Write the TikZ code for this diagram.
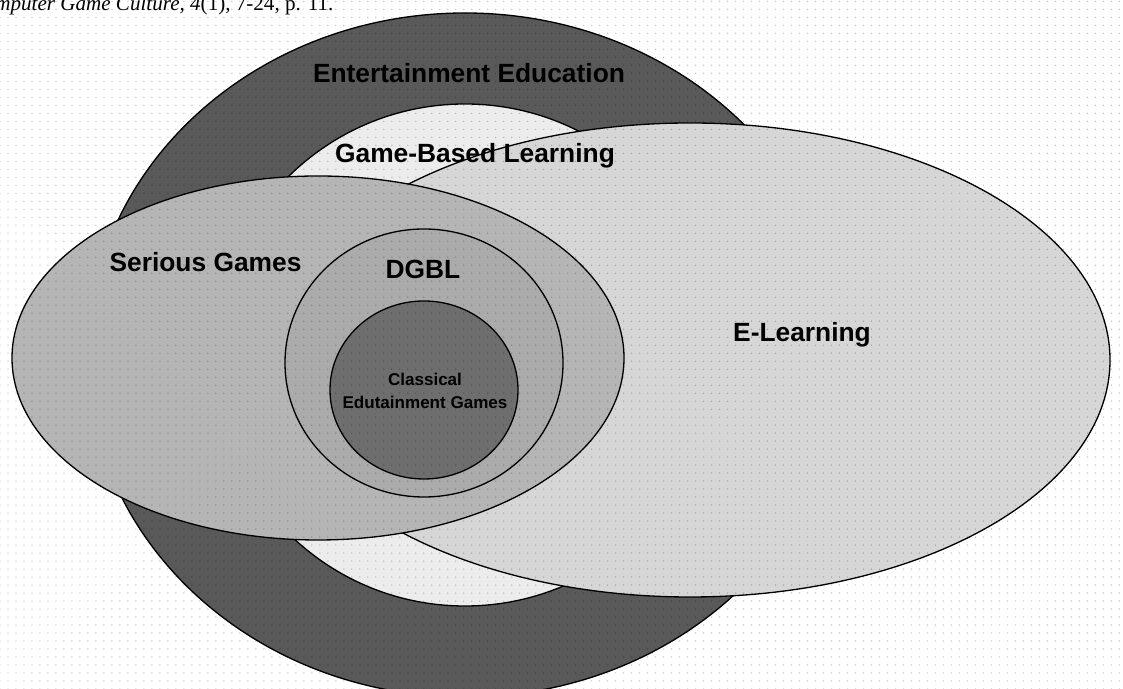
\documentclass[tikz,border=0pt]{standalone}
\usepackage{fontspec}
\setmainfont{Liberation Serif}
\setsansfont{Liberation Sans}
\usetikzlibrary{patterns.meta}

\definecolor{eedark}{gray}{0.35}
\definecolor{gbllight}{gray}{0.925}
\definecolor{elgray}{gray}{0.84}
\definecolor{sggray}{gray}{0.71}
\definecolor{dgblgray}{gray}{0.67}
\definecolor{cegdark}{gray}{0.43}

% grid of small dots over the whole sheet
\tikzdeclarepattern{
  name=griddots,
  type=uncolored,
  bounding box={(-1pt,-1pt) and (1pt,1pt)},
  tile size={(4.55pt,4.55pt)},
  code={
    \pgfpathcircle{\pgfpointorigin}{0.42pt}
    \pgfusepath{fill}
  }
}

\begin{document}
\begin{tikzpicture}[line cap=round,line join=round,
  region/.style={draw=black,line width=0.75pt},
  tag/.style={font=\sffamily\bfseries\fontsize{15}{18}\selectfont,inner sep=0pt}]
  \useasboundingbox (0,0) rectangle (22.46,13.78);
  \fill[white] (0,0) rectangle (22.46,13.78);
  \coordinate (EE) at (9.30,6.68);
  \coordinate (GBL) at (9.30,6.68);
  \coordinate (EL) at (13.80,6.58);
  \coordinate (SG) at (6.36,6.62);
  \coordinate (DGBL) at (8.48,6.52);
  \coordinate (CEG) at (8.48,5.98);
  % the nested sets, back to front
  \draw[region,fill=eedark] (EE) ellipse [x radius=7.55,y radius=6.84];
  \draw[region,fill=gbllight] (GBL) circle (5.02);
  \draw[region,fill=elgray] (EL) ellipse [x radius=8.40,y radius=4.74];
  \draw[region,fill=sggray] (SG) ellipse [x radius=6.12,y radius=3.64];
  \draw[region,fill=dgblgray] (DGBL) ellipse [x radius=2.78,y radius=2.68];
  \draw[region,fill=cegdark] (CEG) ellipse [x radius=1.88,y radius=1.78];
  \fill[pattern=griddots,pattern color=black,fill opacity=0.25] (0,0) rectangle (22.46,13.78);
  % labels
  \node[tag,anchor=base] (ee) at (9.38,12.12) {Entertainment Education};
  \node[tag,anchor=base] (gbl) at (9.50,10.52) {Game-Based Learning};
  \node[tag,anchor=base] (sg) at (4.11,8.34) {Serious Games};
  \node[tag,anchor=base] (dgbl) at (8.46,8.20) {DGBL};
  \node[tag,anchor=base] (el) at (16.04,6.94) {E-Learning};
  \node[tag,font=\sffamily\bfseries\fontsize{9.7}{13}\selectfont,align=center] (ceg) at (8.50,5.96)
    {Classical\\Edutainment Games};
  \node[anchor=base west,inner sep=0pt,font=\fontsize{12}{14}\selectfont] (src) at (-0.10,13.57)
    {\textit{mputer Game Culture,} \textit{4}(1), 7-24, p. 11.};
\end{tikzpicture}
\end{document}
